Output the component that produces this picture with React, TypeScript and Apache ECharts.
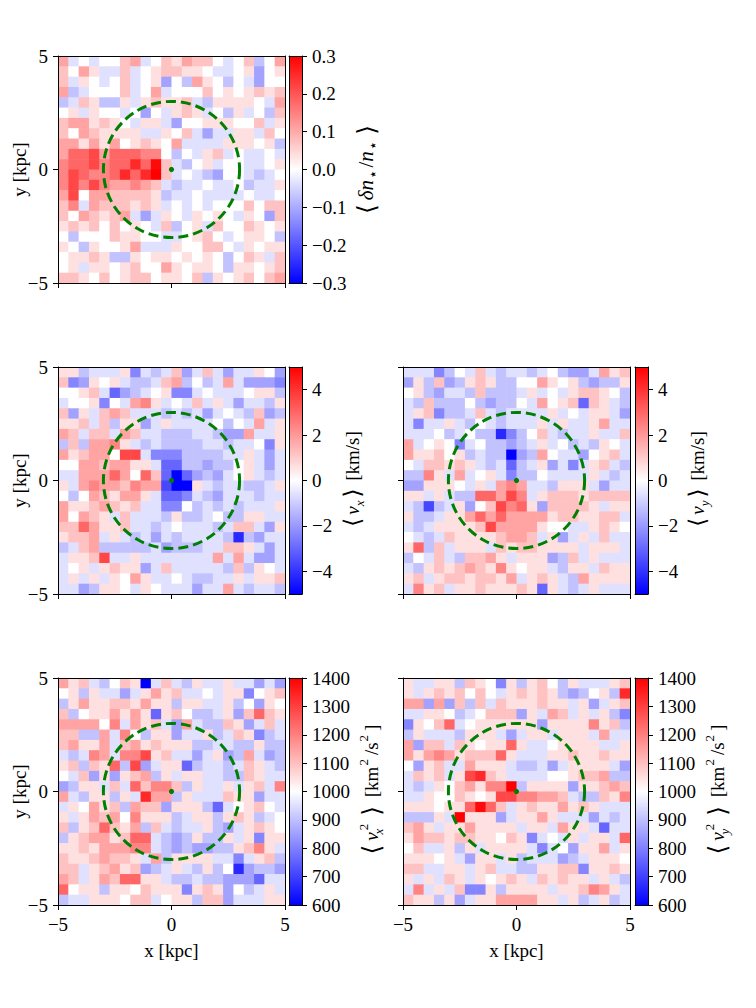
import React, { useEffect, useRef } from 'react';
import * as echarts from 'echarts';

// ---------------- data (levels; value = centre + level * step) ----------------
const NBINS = 22;
const X_MIN = -5;
const X_MAX = 5;
const AXIS_TICKS = [-5, 0, 5];
const CIRCLE = [0, 0, 3]; // centre x, centre y, radius [kpc]

const DN_STEP = 0.036;
const DN_CENTER = 0;
const DN_TICKS = [-0.3, -0.2, -0.1, 0, 0.1, 0.2, 0.3];
const DN_LEVELS = [
  [3, -1, 0, -1, 0, 0, 2, 3, -1, 0, 2, 1, 3, 2, 2, 0, -1, 0, 2, -2, 0, 3],
  [2, 0, 3, 1, -1, -1, 2, -1, 0, 1, 2, 2, 1, 1, 0, -1, -1, 0, 1, -3, 0, 1],
  [2, -1, 1, 0, -1, 0, 2, -1, 0, 1, -3, 0, -2, 3, 1, 0, -2, 0, -1, -3, 0, 0],
  [3, -2, -1, 0, 0, 0, 2, -1, 0, 3, -1, 0, 0, 0, 2, 0, 1, 0, 1, 2, 1, 2],
  [-2, -1, 2, 1, -2, -2, 1, -1, 1, 2, 1, 1, 2, -1, -2, 1, 1, 1, 1, 0, -1, 3],
  [0, 1, -1, 1, 0, 0, -1, 0, -3, 0, -1, 1, 2, 1, -1, 0, -2, 1, -1, 0, -2, 2],
  [2, 3, 3, 1, 2, 1, 0, -1, 1, 1, -1, -3, 0, 0, 1, 1, 1, 0, 0, 2, -1, 1],
  [2, 0, 3, 2, 1, 1, 1, 1, -1, -1, 1, 0, 2, -1, -3, -1, -1, 1, 1, -1, 2, 0],
  [3, 3, 1, 3, 1, 3, 0, 1, 2, 1, 0, 3, -1, -1, -1, -1, 1, 1, 1, 0, 1, -2],
  [3, 5, 5, 6, 3, 5, 5, 5, 4, 4, 0, -2, 0, -1, 1, 2, -1, 0, -1, -1, 0, -1],
  [4, 5, 5, 6, 4, 5, 5, 7, 5, 8, 2, -1, -2, 0, 1, -1, 0, 0, -1, -1, 0, 1],
  [4, 6, 5, 4, 4, 5, 7, 5, 7, 10, 2, -1, 0, -1, -2, -3, 0, 0, -1, -2, -1, 0],
  [4, 6, 4, 6, 4, 3, 3, 4, 3, 2, -1, -2, -1, -1, 0, -1, -1, 0, -2, -1, -1, 1],
  [3, 6, 0, 3, 3, 2, 2, 2, 2, 1, -2, -1, -1, 0, -1, -1, -1, -1, 0, -1, -1, 0],
  [2, 4, -1, 3, 2, 2, 2, 1, 2, 1, -1, 0, -1, 0, -1, 0, 0, 0, 2, 0, 2, 2],
  [2, 0, 3, 2, 1, 2, 3, -1, -3, -1, 1, 0, -1, 1, 0, 1, 0, -1, 1, 0, -3, 2],
  [1, 2, 1, 2, 0, 2, 0, 1, 0, -1, 2, -2, 0, 1, -1, 2, 0, 0, 2, 1, 0, 1],
  [0, -2, 0, 0, 0, 2, 1, 1, 0, 0, -1, -1, 0, 1, 2, 0, -1, 0, 1, 1, 0, -2],
  [1, 0, -2, 1, 0, 0, 1, 3, -1, -1, -1, 1, 0, 0, 2, 2, 0, -1, 1, 0, 1, 1],
  [0, 1, 1, 2, 1, -2, -2, 1, 0, 1, 1, 0, 1, 0, 1, 0, -2, 0, 2, 1, -1, 2],
  [0, 1, -1, 1, 1, 0, 1, 2, 0, 0, 3, 1, 0, 1, 1, 0, -2, 1, 1, 0, 1, 2],
  [2, 2, 1, 0, 2, 0, 1, 2, 2, 0, 1, 1, 0, 2, -2, 1, 0, 1, 2, 0, 2, 3],
];

const V_STEP = 0.6;
const V_CENTER = 0;
const V_TICKS = [-4, -2, 0, 2, 4];
const VX_LEVELS = [
  [1, 1, -2, -1, -1, -1, 1, -4, -1, -2, -1, 2, -3, -1, 2, -1, -3, -1, -1, 1, 0, -3],
  [2, -4, -3, 1, 0, 1, -1, -2, -2, -1, 2, 3, -2, 0, -2, -1, 3, -1, -3, -3, -3, -4],
  [0, 0, 1, 2, -1, -5, -3, -2, -1, 0, 1, -4, -4, -1, 0, -1, -1, -1, 0, 1, 1, -2],
  [-1, 0, 0, 1, -4, 0, -1, 3, 4, 1, -1, 0, -1, 2, -1, 1, -1, -3, -1, -1, -2, 1],
  [2, -3, 1, -1, 2, 3, 2, -1, -1, -1, -2, -1, -2, -1, -3, -1, 0, -1, -2, 2, -3, -2],
  [1, 1, 2, -1, 2, -2, 1, 1, -3, -1, 1, -1, -1, -1, -1, 0, -2, 0, -1, 3, -1, 1],
  [3, 2, -1, 2, 2, -1, 3, 2, -1, -1, -2, -2, -2, -1, -1, -2, -3, -3, 3, -1, -1, 1],
  [-2, 2, -2, 3, 3, 4, 1, -1, -2, -1, -2, -2, -2, -2, -1, -1, -2, -1, -1, 0, -4, 1],
  [3, 1, 2, 3, 3, 0, 6, 6, -1, -4, -4, -4, -2, -2, -2, -2, -1, -1, 1, -1, -3, -1],
  [0, 0, 3, 3, 2, 3, 3, 1, 1, -1, -5, -5, -2, -2, -3, -2, -2, 0, 1, -1, -3, -1],
  [-1, -1, 3, 3, 3, 5, 3, 0, 5, 2, -5, -10, -5, -3, -2, -3, -1, 0, 1, -1, -2, -1],
  [1, -1, 3, 4, 3, 3, 2, 4, 3, 3, -6, -10, -9, 1, -1, -2, -1, -1, -2, -2, -1, 1],
  [0, -2, 0, 3, 2, 1, 3, 3, 1, -1, -5, -5, -4, -1, -2, -3, -1, -1, -1, -2, -1, -1],
  [3, 1, 1, 2, 3, 2, 1, 2, -1, -1, -4, -4, 0, -2, -1, -2, -1, -2, -1, -1, -1, 1],
  [3, 0, 3, 2, 1, -1, 2, -1, -1, -1, -2, 1, -2, -2, -1, 0, -2, -2, 1, 1, -1, -1],
  [2, 2, 5, 3, 1, 1, 2, -1, -1, -2, -1, 0, -1, -1, -1, -2, -1, 2, 2, -1, -3, 1],
  [1, 2, 2, 3, -1, 1, -1, -2, -1, -3, -1, -2, -1, -1, -1, -1, -2, -7, -2, -3, -1, -1],
  [-2, -1, 2, 3, -2, -2, -2, -2, -2, -1, -3, -2, -2, -2, -1, -1, 2, 2, 1, -1, -3, -1],
  [-1, 1, 1, 2, 6, -1, -1, 1, -1, -1, -1, -1, -1, -1, -1, 3, -1, 3, -1, -3, -3, -1],
  [-1, 0, 1, -1, 1, 2, 1, 1, -3, -1, 2, -1, -1, -1, -1, -1, -2, 2, -2, 1, 0, -1],
  [-1, 1, -1, 1, -1, 1, 0, 3, 1, -1, -1, 0, -1, -2, -2, -1, -1, 1, -1, 1, 1, 2],
  [-1, -1, -3, -2, 1, 1, 0, -1, 1, 0, -1, -1, -1, -3, -1, -1, 3, -1, -2, -1, -1, -2],
];
const VY_LEVELS = [
  [-1, -1, -1, -4, -2, 0, -1, 2, -1, -2, -1, -1, -2, -1, 0, -2, -3, -3, -1, 3, 1, 2],
  [-3, 1, -2, 2, -3, -2, 1, 2, 1, -2, -2, 0, 0, 3, 1, 0, 1, -2, -3, -2, -2, 1],
  [0, 1, -2, -3, -1, -1, -2, 2, -2, -2, -2, -1, 1, -1, 0, -1, 1, 2, 2, 1, 0, -2],
  [-1, -2, 2, -2, -2, -2, 0, -2, -3, -2, -2, 0, -1, 3, 0, 1, 2, -5, 2, 1, -1, -2],
  [-1, 1, 2, -4, -2, -2, -1, 2, -1, -2, -1, -1, -1, -1, 1, -1, 0, -1, 1, 1, -1, -3],
  [-1, -4, -1, -1, 1, -1, -2, 0, -1, -2, -1, -1, -1, 1, -1, 1, -1, -1, 1, 3, -1, -1],
  [-1, -1, -1, 0, -2, -1, 0, -2, -2, -7, -4, -2, 0, 2, -1, -2, -1, -1, 1, -1, -1, 2],
  [3, -1, 0, 1, 0, -4, -1, 0, -2, -2, -3, -2, -1, 1, -1, 0, -2, -1, -2, 1, 0, -1],
  [3, 1, 1, 2, 0, 1, -2, -1, -2, -2, -10, -3, -2, 3, 0, -1, -1, -3, 0, 1, 2, -1],
  [0, -1, 2, 2, 1, 2, 1, -1, -2, -1, -5, -2, -1, 1, -3, -1, -4, -1, 1, 2, -1, -2],
  [-2, -2, 4, 1, -1, 3, -1, 0, 1, -1, -4, -2, -2, 0, -1, -1, -1, -1, 1, -1, -2, -1],
  [-3, -3, 1, 1, 1, 0, -1, 1, -1, 3, 4, 3, -1, -1, -2, 1, 1, 1, -1, -3, -1, -1],
  [1, 1, -1, 1, -1, -2, -2, 5, 5, 3, 6, 4, -1, 1, 2, 2, 2, 1, 2, 2, 2, 2],
  [-1, -2, -6, -2, -1, 1, -3, 0, 2, 6, 4, 5, 1, -3, 2, 2, 2, 2, 1, -1, 1, 1],
  [1, -2, -2, -1, 1, 1, 3, 5, 3, 5, 3, 3, 3, 3, 1, 2, 2, 1, 1, 2, 2, -1],
  [-1, -2, -1, 1, 1, 1, 1, 2, 6, 3, 3, 3, 3, 1, 0, 0, -1, -1, 1, 2, 1, 0],
  [0, -1, -2, -1, 2, 1, 1, 1, 1, 2, 3, 3, 2, -1, 1, -3, -1, 1, -1, 2, -1, -1],
  [1, 5, -2, 2, -1, 1, 1, 1, -1, 2, 1, 2, 2, 1, 1, 1, 1, -1, 1, 1, 1, -1],
  [-2, 0, -1, 2, -1, -2, 2, 2, 3, 1, -1, 1, 1, 1, -3, -2, 2, -1, 1, -1, -1, -1],
  [-1, -2, 1, 2, 1, 2, 3, 2, 1, 4, 1, 0, 1, 1, -1, -2, 1, 1, -1, 2, 1, 1],
  [1, 2, -1, 1, 2, 2, 1, 2, 2, 1, 3, -1, 1, 2, 1, -1, -2, 3, 1, 1, 1, 1],
  [-1, 4, 1, 2, -1, 1, 1, 2, 1, 1, 1, 2, 1, -5, 1, -1, -2, -1, 1, -1, -1, -1],
];

const V2_STEP = 48;
const V2_CENTER = 1000;
const V2_TICKS = [600, 700, 800, 900, 1000, 1100, 1200, 1300, 1400];
const VX2_LEVELS = [
  [3, 1, 2, -1, -2, 0, 2, 1, -9, -1, 2, -1, -2, 1, -1, -1, 1, -1, -1, -3, -1, -3],
  [0, 1, -2, 1, -1, -1, -3, -1, 1, 3, 1, 2, -1, -1, 0, -1, 1, 1, -4, 0, 1, 2],
  [-2, 1, 3, 1, 1, 2, 2, 1, 3, 1, 1, -2, 1, 1, -1, -1, 1, -2, 0, -3, 1, 0],
  [2, -2, 0, 1, 1, 3, 1, 3, 1, -5, 1, 2, 0, -2, -2, -1, 1, -3, 2, 5, 2, 1],
  [3, 3, 3, 3, 0, 4, -1, 3, 1, 2, -1, -3, 3, -1, -2, -2, 2, 1, -3, -1, 2, -1],
  [2, 2, -2, -2, 3, -1, 4, 0, -2, 1, 1, -3, -1, -1, 1, -2, -1, 2, 1, -4, -2, -1],
  [2, 3, 1, 1, 3, -1, 2, 3, 1, 2, 1, 1, 1, -2, -2, -1, -1, -2, -2, 1, -2, -2],
  [-1, -2, -1, 4, 3, -1, 4, 4, 6, 1, 2, -1, -1, -3, -1, 1, -3, -2, 3, -1, -3, -2],
  [1, 2, -2, 2, 1, 5, -2, 6, -3, -1, 1, 1, -5, -2, -1, -1, -2, -1, 2, 1, -1, -2],
  [0, -1, 2, -3, 1, -3, 1, 2, 3, -2, 1, -1, 1, 1, -1, -1, -2, -2, 2, 1, -1, -1],
  [-3, -2, 1, 1, -1, 2, -1, 5, 2, 4, 4, 2, -2, 1, -1, -1, 1, -1, 1, 2, -1, 4],
  [3, -1, -2, 1, 1, -2, 1, -1, 7, 3, 3, -2, 1, -1, -1, -1, 2, 1, 1, -3, -1, -1],
  [-1, 1, 0, 3, 1, 2, -2, 3, 2, 2, -3, 1, 1, 1, -2, -5, -1, 0, 1, 2, 0, -1],
  [1, -1, 1, 3, 2, 3, 0, 4, 1, 1, 1, -2, -1, 1, 1, -2, 1, 2, 1, -2, -1, 0],
  [2, -2, 1, 2, 5, 2, 1, 3, -2, 2, -1, -2, -1, -1, 1, -2, -3, -1, 1, 2, 1, 0],
  [-2, 1, 2, 3, 3, 1, 2, 5, 5, -1, -2, -3, -2, 1, -2, -2, 1, -1, 1, -4, 1, 1],
  [1, 1, 2, 1, 3, 3, 3, 4, 4, -1, -2, -3, -2, -3, -3, -2, -2, 1, 2, 4, 1, -1],
  [2, 1, 1, 2, 3, 2, 2, 1, -1, 3, -2, 1, 1, 1, 1, -1, -1, -4, -1, 1, 2, -2],
  [2, 2, -1, 1, 2, 3, 1, 2, -3, -2, -1, 1, -1, -2, 1, -2, 0, -7, -3, -2, -2, -3],
  [3, 2, -1, 1, 3, 2, 5, 5, 1, 1, -1, -2, -2, -1, -2, -2, -3, -3, -3, -5, -1, -1],
  [5, 0, 1, 1, -2, 1, 1, 0, 2, 1, 1, 1, -4, 1, 2, 1, -3, 0, -2, -1, 1, -1],
  [-2, -1, -1, 1, 1, 1, 0, 2, 2, -1, 0, 1, 1, -2, 2, 2, -3, -1, -1, -1, 1, 1],
];
const VY2_LEVELS = [
  [1, -1, -1, 1, 1, -2, 2, 1, 0, -4, 1, -2, 1, 2, 0, -2, 1, -1, -1, -1, 1, 2],
  [1, -1, 1, 2, 1, 2, 0, 2, 0, -1, 1, 2, 1, 2, 1, -2, -3, -2, 0, 1, -2, 7],
  [3, 3, -3, 3, -3, 2, -2, 2, -1, 2, 1, 1, 1, 2, 1, 1, -1, 1, -3, -1, 1, 2],
  [-1, -1, 1, 1, 0, -2, -1, 0, 2, 2, 2, -3, 1, -1, 3, 2, -1, 1, -1, 1, -2, -4],
  [-4, 1, 0, 2, 5, -1, 0, 1, 1, 1, 1, 1, 1, -3, 1, 1, 1, 1, 4, 1, 2, -2],
  [-2, 1, -1, -1, -1, -2, 1, 1, 1, -1, -3, -1, 1, 1, -1, 1, 1, 1, -1, 3, -1, -1],
  [3, -3, 2, 2, -1, 2, 1, 0, 1, 1, 5, 1, -1, -1, 0, 1, 1, 1, 1, -1, -1, 1],
  [3, 1, 3, 4, 3, 1, 2, 2, 2, 5, 1, -1, -1, -1, 1, 1, 2, 1, 1, 2, 1, 1],
  [0, -3, 1, 2, -1, -1, 3, 1, 1, 1, -1, -2, -2, -1, -3, -1, 1, 1, 1, 1, -1, -3],
  [-1, 2, 1, 2, -1, 1, 6, 7, 2, 1, -1, -1, -1, -1, 0, 0, 1, 2, 2, 3, -2, -2],
  [-1, -2, -1, 1, 0, 2, 3, 1, 4, 4, 10, -2, 1, 1, 1, 1, -3, 1, 1, 2, 3, 2],
  [-1, -1, 1, 0, 0, 2, 1, 0, 1, 6, 6, 4, 4, 3, 3, 2, -1, -2, -2, 2, 1, 4],
  [1, 1, 1, 0, 1, 1, 5, 8, 5, 2, -1, 1, 2, 1, 1, 3, 1, 2, 1, -1, -1, -1],
  [-2, -2, -2, 1, -1, 10, 1, 1, 1, -3, -1, 1, 1, 3, 1, -1, -1, -1, -3, -1, -2, -1],
  [2, 3, 1, -1, 1, 1, 3, 1, 1, 1, 1, -1, 1, 1, -1, 3, 1, 1, -1, -5, -1, -1],
  [1, 3, 2, 2, 1, 2, 2, 1, 1, 0, 2, 1, -4, -1, 0, -1, 1, -1, 1, 1, -1, 5],
  [0, 2, -1, -1, 1, -2, 1, -1, 1, 1, 1, 1, -1, -4, -1, 0, -3, 1, 1, 3, -1, 1],
  [1, 1, 1, 0, 1, -1, -3, 1, 1, -1, 1, -2, -1, -1, -1, -3, -2, -1, 1, 1, 1, 0],
  [2, 2, -1, -1, 1, 1, -1, 1, 2, -1, -1, -2, -2, 1, 1, 2, 2, -4, 1, 1, 2, 1],
  [1, -1, 1, -1, 2, 1, -1, 1, 0, 1, 2, 1, -1, 2, 1, 2, 1, 1, -1, 1, -1, -2],
  [-1, 4, -1, 1, -1, 2, -4, -4, 1, -2, 1, 1, 1, 1, -1, 1, 1, 2, 4, 3, 1, -1],
  [2, 1, 1, -2, 1, -3, -1, 1, 1, 3, 3, 3, 3, 1, 1, -1, 1, -2, -1, 1, -2, -1],
];

// ---------------- texts ----------------
const X_TITLE = 'x [kpc]';
const Y_TITLE = 'y [kpc]';
const LABEL_DN = '{br|⟨}{it|δn}{star|⋆}{rm|/}{it|n}{star|⋆}{br|⟩}';
const LABEL_VX = '{br|⟨}{it|v}{sub|x}{br|⟩}{rm| [km/s]}';
const LABEL_VY = '{br|⟨}{it|v}{sub|y}{br|⟩}{rm| [km/s]}';
const LABEL_VX2 = '{br|⟨}{it|v}{subz|x}{sup|2}{br|⟩}{rm| [km}{sup|2}{rm|/s}{sup|2}{rm|]}';
const LABEL_VY2 = '{br|⟨}{it|v}{subz|y}{sup|2}{br|⟩}{rm| [km}{sup|2}{rm|/s}{sup|2}{rm|]}';

// ---------------- styling ----------------
const SERIF = 'Liberation Serif';
const SYM = 'DejaVu Sans';
const BWR = ['#0000ff', '#ffffff', '#ff0000'];
const PW = 227;
const PH = 227;
const CBW = 13;
const FS = 19;

const minus = (s: string) => s.replace('-', '\u2212');

function makeRich(main: number, small: number, brSize: number, brPad: number, supPad: number) {
  return {
    br: { fontFamily: SYM, fontSize: brSize, lineHeight: 28, padding: [0, brPad, 0, brPad], color: '#000' },
    it: { fontFamily: SERIF, fontStyle: 'italic', fontSize: main, lineHeight: 28, color: '#000' },
    rm: { fontFamily: SERIF, fontSize: main, lineHeight: 28, color: '#000' },
    sub: { fontFamily: SERIF, fontStyle: 'italic', fontSize: small, lineHeight: 15, verticalAlign: 'bottom', color: '#000' },
    subz: { fontFamily: SERIF, fontStyle: 'italic', fontSize: small, lineHeight: 15, verticalAlign: 'bottom', width: 1, color: '#000' },
    sup: { fontFamily: SERIF, fontSize: small, lineHeight: 15, verticalAlign: 'top', padding: [0, supPad, 0, 1], color: '#000' },
    star: { fontFamily: SYM, fontSize: small + 1, lineHeight: 15, verticalAlign: 'bottom', padding: [0, 2, 0, 1], color: '#000' },
  };
}
const RICH_DN = makeRich(21, 14, 25, 4, 2);
const RICH_V = makeRich(FS, 13, 23, 3, 2);
const RICH_V2 = makeRich(FS, 13, 25, 4, 4);

const PANELS = [
  { levels: DN_LEVELS, step: DN_STEP, center: DN_CENTER, min: -0.3, max: 0.3, ticks: DN_TICKS,
    fmt: (v: number) => minus(v.toFixed(1)), left: 58, top: 56, cbLeft: 289, showX: false, showY: true,
    label: LABEL_DN, rich: RICH_DN, labelX: 366 },
  { levels: VX_LEVELS, step: V_STEP, center: V_CENTER, min: -5, max: 5, ticks: V_TICKS,
    fmt: (v: number) => minus(String(v)), left: 58, top: 367, cbLeft: 289, showX: false, showY: true,
    label: LABEL_VX, rich: RICH_V, labelX: 352 },
  { levels: VY_LEVELS, step: V_STEP, center: V_CENTER, min: -5, max: 5, ticks: V_TICKS,
    fmt: (v: number) => minus(String(v)), left: 403, top: 367, cbLeft: 635, showX: false, showY: false,
    label: LABEL_VY, rich: RICH_V, labelX: 697 },
  { levels: VX2_LEVELS, step: V2_STEP, center: V2_CENTER, min: 600, max: 1400, ticks: V2_TICKS,
    fmt: (v: number) => String(v), left: 58, top: 678, cbLeft: 289, showX: true, showY: true,
    label: LABEL_VX2, rich: RICH_V2, labelX: 371 },
  { levels: VY2_LEVELS, step: V2_STEP, center: V2_CENTER, min: 600, max: 1400, ticks: V2_TICKS,
    fmt: (v: number) => String(v), left: 403, top: 678, cbLeft: 635, showX: true, showY: false,
    label: LABEL_VY2, rich: RICH_V2, labelX: 717 },
];

const BIN_EDGES = Array.from({ length: NBINS + 1 }, (_, i) => X_MIN + (i * (X_MAX - X_MIN)) / NBINS);

function buildCells(levels: number[][], step: number, center: number, min: number, max: number) {
  const out: number[][] = [];
  levels.forEach((row, r) => {
    const yHi = BIN_EDGES[NBINS - r];
    const yLo = BIN_EDGES[NBINS - r - 1];
    row.forEach((lv, c) => {
      const xLo = BIN_EDGES[c];
      const xHi = BIN_EDGES[c + 1];
      const raw = +(center + lv * step).toFixed(6);
      const v = Math.min(max, Math.max(min, raw));
      out.push([(xLo + xHi) / 2, (yLo + yHi) / 2, v, xLo, xHi, yLo, yHi]);
    });
  });
  return out;
}

function buildOption() {
  const grid: any[] = [];
  const xAxis: any[] = [];
  const yAxis: any[] = [];
  const series: any[] = [];
  const visualMap: any[] = [];
  const graphic: any[] = [];
  const lineStyle = { color: '#000', width: 1 };
  const tickFont = { fontFamily: SERIF, fontSize: FS, color: '#000' };
  const fmtAxis = (v: number) => minus(String(v));
  const lineOnly = (gi: number, pos: string, min: number, max: number) => ({
    gridIndex: gi, type: 'value', min, max, position: pos, z: 5,
    axisLine: { show: true, onZero: false, lineStyle },
    axisTick: { show: false }, axisLabel: { show: false }, splitLine: { show: false },
  });

  PANELS.forEach((p) => {
    // heat map panel
    const g = grid.length;
    grid.push({ left: p.left, top: p.top, width: PW, height: PH });
    const xi = xAxis.length;
    xAxis.push({
      gridIndex: g, type: 'value', min: X_MIN, max: X_MAX, interval: 5, position: 'bottom', z: 5,
      axisLine: { show: true, onZero: false, lineStyle },
      axisTick: { show: true, length: 5, lineStyle, customValues: AXIS_TICKS },
      axisLabel: { show: p.showX, margin: 10, ...tickFont, formatter: fmtAxis, customValues: AXIS_TICKS },
      splitLine: { show: false },
    });
    xAxis.push(lineOnly(g, 'top', X_MIN, X_MAX));
    const yi = yAxis.length;
    yAxis.push({
      gridIndex: g, type: 'value', min: X_MIN, max: X_MAX, interval: 5, position: 'left', z: 5,
      axisLine: { show: true, onZero: false, lineStyle },
      axisTick: { show: true, length: 5, lineStyle, customValues: AXIS_TICKS },
      axisLabel: { show: p.showY, margin: 10, ...tickFont, formatter: fmtAxis, customValues: AXIS_TICKS },
      splitLine: { show: false },
    });
    yAxis.push(lineOnly(g, 'right', X_MIN, X_MAX));

    const si = series.length;
    series.push({
      type: 'custom', xAxisIndex: xi, yAxisIndex: yi, clip: true, z: 2, silent: true,
      dimensions: ['x', 'y', 'v', 'x0', 'x1', 'y0', 'y1'],
      encode: { x: 0, y: 1 },
      data: buildCells(p.levels, p.step, p.center, p.min, p.max),
      renderItem: (params: any, api: any) => {
        const a = api.coord([api.value(3), api.value(6)]);
        const b = api.coord([api.value(4), api.value(5)]);
        return {
          type: 'rect',
          shape: { x: a[0], y: a[1], width: b[0] - a[0] + 0.6, height: b[1] - a[1] + 0.6 },
          style: { fill: api.visual('color'), stroke: null },
        };
      },
    });
    visualMap.push({
      type: 'continuous', show: false, seriesIndex: si, dimension: 2,
      min: p.min, max: p.max, inRange: { color: BWR },
    });
    series.push({
      type: 'custom', xAxisIndex: xi, yAxisIndex: yi, clip: false, z: 4, silent: true,
      data: [CIRCLE],
      renderItem: (params: any, api: any) => {
        const c = api.coord([api.value(0), api.value(1)]);
        const r = api.size([api.value(2), 0])[0];
        return {
          type: 'group',
          children: [
            { type: 'circle', shape: { cx: c[0], cy: c[1], r },
              style: { fill: 'none', stroke: '#008000', lineWidth: 3, lineDash: [10, 5] } },
            { type: 'circle', shape: { cx: c[0], cy: c[1], r: 2.6 }, style: { fill: '#008000' } },
          ],
        };
      },
    });

    // colour bar
    const cg = grid.length;
    grid.push({ left: p.cbLeft, top: p.top, width: CBW, height: PH });
    const cxi = xAxis.length;
    xAxis.push(lineOnly(cg, 'bottom', 0, 1));
    xAxis.push(lineOnly(cg, 'top', 0, 1));
    const cyi = yAxis.length;
    yAxis.push({
      gridIndex: cg, type: 'value', min: p.min, max: p.max, position: 'right', z: 5,
      axisLine: { show: true, onZero: false, lineStyle },
      axisTick: { show: true, length: 5, lineStyle, customValues: p.ticks },
      axisLabel: { show: true, margin: 10, ...tickFont, formatter: p.fmt, customValues: p.ticks },
      splitLine: { show: false },
    });
    yAxis.push(lineOnly(cg, 'left', p.min, p.max));
    series.push({
      type: 'custom', xAxisIndex: cxi, yAxisIndex: cyi, clip: true, z: 2, silent: true,
      data: [[0, p.max, 1, p.min]],
      renderItem: (params: any, api: any) => {
        const a = api.coord([api.value(0), api.value(1)]);
        const b = api.coord([api.value(2), api.value(3)]);
        return {
          type: 'rect',
          shape: { x: a[0], y: a[1], width: b[0] - a[0], height: b[1] - a[1] },
          style: {
            fill: new echarts.graphic.LinearGradient(0, 0, 0, 1, [
              { offset: 0, color: BWR[2] },
              { offset: 0.5, color: BWR[1] },
              { offset: 1, color: BWR[0] },
            ]),
          },
        };
      },
    });

    // colour bar label
    graphic.push({
      type: 'text', x: p.labelX, y: p.top + PH / 2, rotation: Math.PI / 2, silent: true,
      style: { text: p.label, rich: p.rich, align: 'center', verticalAlign: 'middle', fill: '#000',
        fontFamily: SERIF, fontSize: FS },
    });
    if (p.showY) {
      graphic.push({
        type: 'text', x: 19, y: p.top + PH / 2, rotation: Math.PI / 2, silent: true,
        style: { text: Y_TITLE, align: 'center', verticalAlign: 'middle', fill: '#000', fontFamily: SERIF, fontSize: FS },
      });
    }
    if (p.showX) {
      graphic.push({
        type: 'text', x: p.left + PW / 2, y: 950, silent: true,
        style: { text: X_TITLE, align: 'center', verticalAlign: 'middle', fill: '#000', fontFamily: SERIF, fontSize: FS },
      });
    }
  });

  return {
    animation: false, backgroundColor: '#ffffff',
    textStyle: { fontFamily: SERIF, fontSize: FS, color: '#000' },
    grid, xAxis, yAxis, series, visualMap, graphic,
  };
}

export default function App() {
  const ref = useRef<HTMLDivElement>(null);
  useEffect(() => {
    document.body.style.margin = '0';
    if (!ref.current) return;
    const chart = echarts.init(ref.current, undefined, { renderer: 'svg', width: 756, height: 1008 });
    chart.setOption(buildOption() as any);
    return () => chart.dispose();
  }, []);
  return (
    <div
      ref={ref}
      style={{ position: 'absolute', left: 0, top: 0, width: 756, height: 1008, background: '#fff' }}
    />
  );
}
